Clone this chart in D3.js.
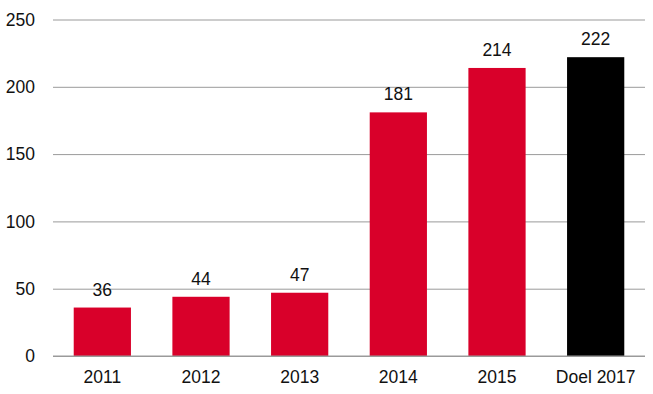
<!DOCTYPE html>
<html>
<head>
<meta charset="utf-8">
<script src="https://cdn.jsdelivr.net/npm/d3@7"></script>
<style>
  body { margin: 0; background: #fff; }
  svg { display: block; font-family: 'Liberation Sans', Arial, sans-serif; }
</style>
</head>
<body>
<svg class="chartContainer" width="653" height="394"></svg>
<script>
const categories = ['2011', '2012', '2013', '2014', '2015', 'Doel 2017']
const values = [36, 44, 47, 181, 214, 222]
const yTicks = [0, 50, 100, 150, 200, 250]

const margin = { top: 19.5, right: 8, bottom: 38, left: 53 }
const width = 653
const height = 394
const innerWidth = width - margin.left - margin.right
const innerHeight = height - margin.top - margin.bottom
const fontSize = '17.5px'

const svg = d3.select('svg.chartContainer')
const g = svg.append('g')
  .attr('transform', `translate(${margin.left},${margin.top})`)

const xScale = d3.scaleBand()
  .domain(categories)
  .range([0, innerWidth])
  .paddingInner(0.42)
  .paddingOuter(0.21)

const yScale = d3.scaleLinear()
  .domain([0, 250])
  .range([innerHeight, 0])

// gridlines + y labels
const yAxis = d3.axisLeft(yScale)
  .tickValues(yTicks)
  .tickSize(-innerWidth)
  .tickPadding(18)
const yAxisG = g.append('g').call(yAxis)
yAxisG.select('.domain').remove()
yAxisG.selectAll('.tick line').attr('stroke', '#9a9a9a').attr('stroke-width', 1)
yAxisG.selectAll('.tick text')
  .attr('fill', '#111')
  .style('font-size', fontSize)

// bars
g.selectAll('rect.bar')
  .data(values)
  .enter().append('rect')
  .attr('class', 'bar')
  .attr('x', (d, i) => xScale(categories[i]))
  .attr('y', d => yScale(d))
  .attr('width', xScale.bandwidth())
  .attr('height', d => innerHeight - yScale(d))
  .attr('fill', (d, i) => i === categories.length - 1 ? '#000' : '#d9002a')

// baseline over bars
g.append('line')
  .attr('x1', 0)
  .attr('x2', innerWidth)
  .attr('y1', yScale(0))
  .attr('y2', yScale(0))
  .attr('stroke', '#9a9a9a')

// value labels
g.selectAll('text.value')
  .data(values)
  .enter().append('text')
  .attr('class', 'value')
  .attr('x', (d, i) => xScale(categories[i]) + xScale.bandwidth() / 2)
  .attr('y', d => yScale(d) - 12)
  .attr('text-anchor', 'middle')
  .attr('fill', '#111')
  .style('font-size', fontSize)
  .text(d => d)

// x labels
const xAxis = d3.axisBottom(xScale).tickSize(0).tickPadding(15)
const xAxisG = g.append('g')
  .attr('transform', `translate(0,${innerHeight})`)
  .call(xAxis)
xAxisG.select('.domain').remove()
xAxisG.selectAll('.tick text')
  .attr('fill', '#111')
  .style('font-size', fontSize)
</script>
</body>
</html>
